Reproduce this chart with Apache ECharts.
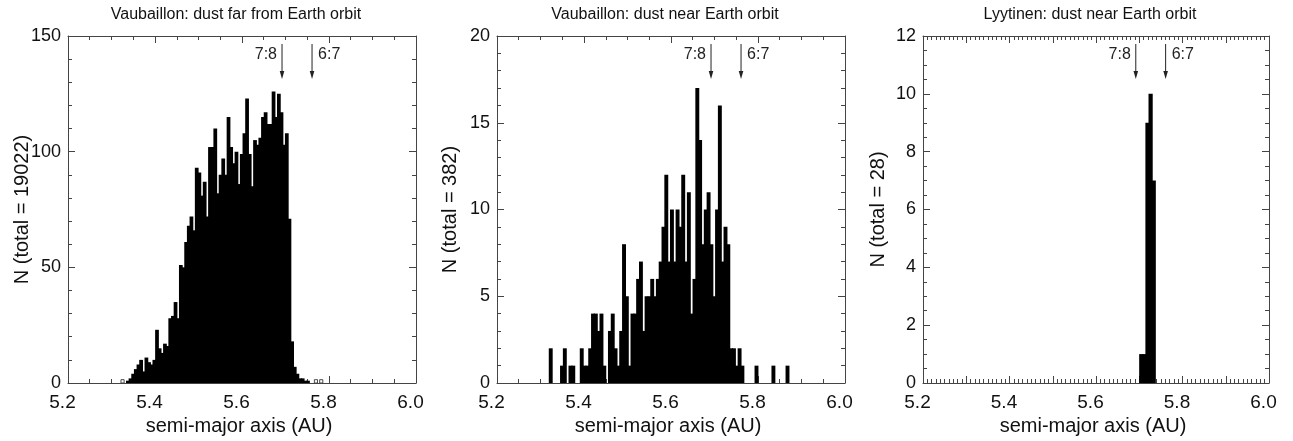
<!DOCTYPE html>
<html>
<head>
<meta charset="utf-8">
<script src="https://cdn.jsdelivr.net/npm/echarts@6/dist/echarts.min.js"></script>
<style>
html,body{margin:0;padding:0;background:#fff;}
#c{width:1293px;height:441px;}
</style>
</head>
<body>
<div id="c"></div>
<script>
// ---------- data ----------
const panelTitles = [
  'Vaubaillon: dust far from Earth orbit',
  'Vaubaillon: dust near Earth orbit',
  'Lyytinen: dust near Earth orbit'
];
const yNames = ['N (total = 19022)', 'N (total = 382)', 'N (total = 28)'];
const xName = 'semi-major axis (AU)';

// x axis range and ticks (AU)
const xMin = 5.2, xMax = 6.0;
const xInterval = [0.2, 0.2, 0.1];
const xMinorSplit = [4, 4, 10];
// y axis ticks
const yMax = [150, 20, 12];
const yInterval = [50, 5, 2];
const yMinorSplit = [5, 5, 4];

// histogram bins: first bin edge (AU), bin width (AU), counts
const binStart = [5.3218, 5.3197, 5.7005];
const binWidth = [0.00609, 0.00648, 0.0072];

const counts1 = [1, 0,
  1, 2, 4, 6, 8, 10, 5, 11, 9, 8,
  10, 23, 15, 13, 17, 16, 28, 29, 35, 28,
  51, 50, 61, 68, 72, 66, 93, 91, 81, 87,
  72, 102, 102, 110, 82, 90, 97, 90, 115, 102,
  95, 100, 86, 99, 108, 123, 99, 85, 105, 103,
  106, 115, 117, 112, 112, 126, 115, 125, 117, 103,
  108, 71,
  18, 7, 4, 2, 2, 1, 1, 0, 0, 1, 0, 1];

const counts2 = [
  2, 0, 0, 0, 1, 2, 0, 1, 1, 0, 0, 2, 1, 1, 2, 4, 4, 3, 4,
  1, 0, 3, 4, 2, 1, 3, 8, 5, 1, 4, 4, 6, 7, 3, 5, 5, 6, 5, 6,
  7, 9, 12, 7, 10, 7, 10, 9, 12, 7, 11, 4, 6, 17, 14, 8, 10, 11, 8, 5, 10, 16,
  7, 9, 8, 2, 2, 1, 2,
  1, 0, 0, 0, 0, 1, 0, 0, 0, 0, 0, 1, 0, 0, 0, 0, 1];

const counts3 = [1, 1, 9, 10, 7];

const allCounts = [counts1, counts2, counts3];

// resonance positions (AU) and labels
const resonanceA = [5.692, 5.761];
const resonanceLabels = ['7:8', '6:7'];

// ---------- styling ----------
const FONT = '"Liberation Sans", Arial, Helvetica, sans-serif';
const AX = '#444';
const grids = [
  {left: 68, top: 36, width: 348, height: 347},
  {left: 497, top: 36, width: 348, height: 347},
  {left: 923, top: 36, width: 346, height: 347}
];
const yNameGap = [36, 37, 35];

function histData(p) {
  const c = allCounts[p];
  return c.map((v, i) => {
    const x0 = binStart[p] + i * binWidth[p];
    const isolated = (i === 0 || c[i - 1] === 0) && (i === c.length - 1 || c[i + 1] === 0);
    const outline = isolated && v / yMax[p] < 0.02 ? 1 : 0;
    return [x0, x0 + binWidth[p], v, outline];
  });
}

function renderBar(params, api) {
  const v = api.value(2);
  if (!v) return null;
  const p0 = api.coord([api.value(0), 0]);
  const p1 = api.coord([api.value(1), v]);
  const outline = api.value(3) === 1;
  if (outline) {
    return {
      type: 'rect',
      shape: {x: p0[0], y: p1[1] - 1, width: p1[0] - p0[0] + 0.5, height: p0[1] - p1[1] + 1},
      style: {fill: '#fff', stroke: '#222', lineWidth: 0.8}
    };
  }
  return {
    type: 'rect',
    shape: {x: p0[0] - 0.3, y: p1[1], width: p1[0] - p0[0] + 1.1, height: p0[1] - p1[1]},
    style: {fill: '#000'}
  };
}

function renderArrow(params, api) {
  const x = api.coord([api.value(0), 0])[0];
  const top = params.coordSys.y;
  const y0 = top + 8, yHead = top + 35, yTip = top + 43;
  const i = params.dataIndex;
  return {
    type: 'group',
    children: [
      {type: 'line', shape: {x1: x, y1: y0, x2: x, y2: yHead + 2}, style: {stroke: '#222', lineWidth: 1}},
      {type: 'polygon', shape: {points: [[x - 2.3, yHead], [x + 2.3, yHead], [x, yTip]]}, style: {fill: '#222'}},
      {type: 'text', x: i === 0 ? x - 5 : x + 6, y: top + 19,
        style: {text: resonanceLabels[i], fill: '#222', font: '16px ' + FONT,
          align: i === 0 ? 'right' : 'left', verticalAlign: 'middle'}}
    ]
  };
}

const xAxes = [], yAxes = [], series = [], graphics = [];
for (let p = 0; p < 3; p++) {
  const tickCommon = {
    axisLine: {show: true, onZero: false, lineStyle: {color: AX, width: 1}},
    axisTick: {show: true, inside: true, length: 7, lineStyle: {color: AX, width: 1}},
    splitLine: {show: false}
  };
  xAxes.push(Object.assign({
    type: 'value', gridIndex: p, position: 'bottom', min: xMin, max: xMax, interval: xInterval[p],
    minorTick: {show: true, splitNumber: xMinorSplit[p], length: 4, lineStyle: {color: AX, width: 1}},
    axisLabel: {fontSize: 19, fontFamily: FONT, color: '#111', margin: 10, padding: [0, 11, 0, 0],
      formatter: v => (Math.round(v * 10) % 2 === 0 ? v.toFixed(1) : '')},
    name: xName, nameLocation: 'middle', nameGap: 33, nameMoveOverlap: false,
    nameTextStyle: {fontSize: 20, fontFamily: FONT, color: '#111', padding: [0, 6, 0, 0]}
  }, tickCommon));
  xAxes.push(Object.assign({
    type: 'value', gridIndex: p, position: 'top', min: xMin, max: xMax, interval: xInterval[p],
    minorTick: {show: true, splitNumber: xMinorSplit[p], length: 4, lineStyle: {color: AX, width: 1}},
    axisLabel: {show: false}
  }, tickCommon));
  yAxes.push(Object.assign({
    type: 'value', gridIndex: p, position: 'left', min: 0, max: yMax[p], interval: yInterval[p],
    minorTick: {show: true, splitNumber: yMinorSplit[p], length: 4, lineStyle: {color: AX, width: 1}},
    axisLabel: {fontSize: 18, fontFamily: FONT, color: '#111', margin: 7},
    name: yNames[p], nameLocation: 'middle', nameGap: yNameGap[p], nameMoveOverlap: false,
    nameTextStyle: {fontSize: 20, fontFamily: FONT, color: '#111'}
  }, tickCommon));
  yAxes.push(Object.assign({
    type: 'value', gridIndex: p, position: 'right', min: 0, max: yMax[p], interval: yInterval[p],
    minorTick: {show: true, splitNumber: yMinorSplit[p], length: 4, lineStyle: {color: AX, width: 1}},
    axisLabel: {show: false}
  }, tickCommon));

  series.push({
    type: 'custom', xAxisIndex: 2 * p, yAxisIndex: 2 * p,
    renderItem: renderBar, data: histData(p), clip: true,
    encode: {x: [0, 1], y: 2}, silent: true, z: 2
  });
  series.push({
    type: 'custom', xAxisIndex: 2 * p, yAxisIndex: 2 * p,
    renderItem: renderArrow, data: resonanceA.map(a => [a]),
    encode: {x: 0}, silent: true, z: 3
  });

  const g = grids[p];
  graphics.push({
    type: 'text', x: g.left + g.width / 2 - 6, y: 15,
    style: {text: panelTitles[p], font: '16px ' + FONT, fill: '#111', align: 'center', verticalAlign: 'middle'}
  });
}

const chart = echarts.init(document.getElementById('c'), null, {renderer: 'canvas'});
chart.setOption({
  backgroundColor: '#fff',
  animation: false,
  grid: grids,
  xAxis: xAxes,
  yAxis: yAxes,
  series: series,
  graphic: graphics
});
</script>
</body>
</html>
